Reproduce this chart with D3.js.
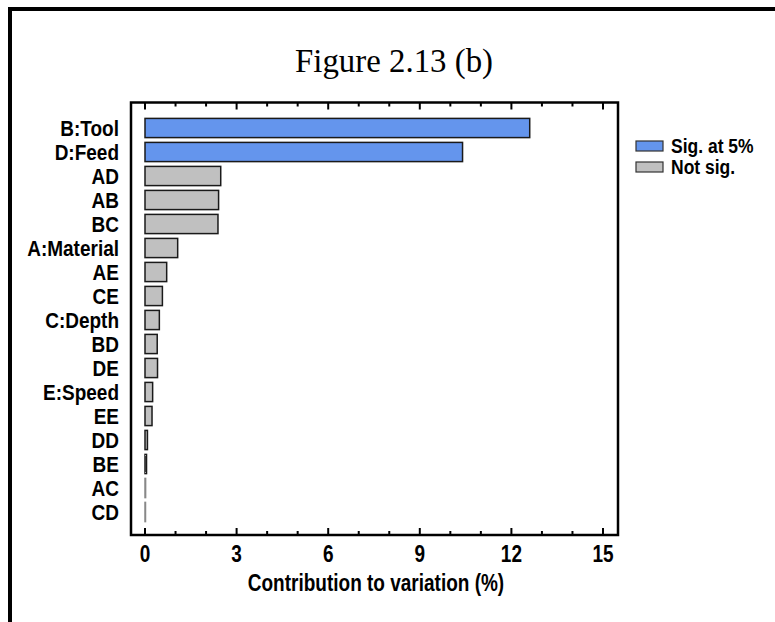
<!DOCTYPE html>
<html>
<head>
<meta charset="utf-8">
<script src="https://cdn.jsdelivr.net/npm/d3@7"></script>
<style>
  body { margin: 0; background: #fff; }
  svg { display: block; }
  .lbl { font-family: "Liberation Sans", Arial, sans-serif; font-weight: bold; fill: #000; }
</style>
</head>
<body>
<svg id="chart"></svg>
<script>
// effects, top to bottom
const effects = ["B:Tool", "D:Feed", "AD", "AB", "BC", "A:Material", "AE", "CE",
  "C:Depth", "BD", "DE", "E:Speed", "EE", "DD", "BE", "AC", "CD"];
const contribution = [12.6, 10.4, 2.48, 2.41, 2.39, 1.07, 0.71, 0.57,
  0.47, 0.40, 0.41, 0.25, 0.23, 0.08, 0.05, 0.02, 0.01];
const significant = [true, true, false, false, false, false, false, false,
  false, false, false, false, false, false, false, false, false];
const xTicks = [0, 3, 6, 9, 12, 15];
const legendItems = ["Sig. at 5%", "Not sig."];

const colors = { sig: "#6495ED", not: "#C0C0C0" };

const svg = d3.select("#chart")
  .attr("width", 775)
  .attr("height", 622);

// text in the picture is a bit stretched vertically
const tall = (sel, px, py, sy) =>
  sel.attr("transform", `translate(${px},${py}) scale(1,${sy})`);

// outer frame (only top and left visible in the picture)
svg.append("rect")
  .attr("x", 10).attr("y", 9)
  .attr("width", 800).attr("height", 700)
  .attr("fill", "none")
  .attr("stroke", "#000")
  .attr("stroke-width", 4);

tall(svg.append("text"), 394, 72, 1.12)
  .attr("text-anchor", "middle")
  .attr("font-family", "'Liberation Serif', 'Times New Roman', serif")
  .attr("font-size", 31)
  .attr("textLength", 198)
  .attr("lengthAdjust", "spacingAndGlyphs")
  .text("Figure 2.13 (b)");

const box = { left: 131, right: 618, top: 102.5, bottom: 535 };

const x = d3.scaleLinear()
  .domain([0, 15])
  .range([145, 603]);

const y = d3.scaleBand()
  .domain(effects)
  .range([116, 524])
  .paddingInner(0.2)
  .paddingOuter(0.1);

// bars
svg.append("g")
  .selectAll("rect")
  .data(effects.map((e, i) => ({ effect: e, value: contribution[i], sig: significant[i] })))
  .enter().append("rect")
  .attr("x", x(0))
  .attr("y", d => y(d.effect))
  .attr("width", d => Math.max(0.5, x(d.value) - x(0)))
  .attr("height", y.bandwidth())
  .attr("fill", d => d.sig ? colors.sig : colors.not)
  .attr("stroke", d => d.value < 0.04 ? "#888" : "#1a1a1a")
  .attr("stroke-width", 1.5);

// plot frame
svg.append("rect")
  .attr("x", box.left).attr("y", box.top)
  .attr("width", box.right - box.left)
  .attr("height", box.bottom - box.top)
  .attr("fill", "none")
  .attr("stroke", "#000")
  .attr("stroke-width", 2.5);

// inward ticks on top and bottom
const allTicks = d3.range(0, 16);
const tickG = svg.append("g").attr("stroke", "#000").attr("stroke-width", 2);
allTicks.forEach(t => {
  const len = t % 3 === 0 ? 7 : 4;
  tickG.append("line")
    .attr("x1", x(t)).attr("x2", x(t))
    .attr("y1", box.bottom).attr("y2", box.bottom - len);
  tickG.append("line")
    .attr("x1", x(t)).attr("x2", x(t))
    .attr("y1", box.top).attr("y2", box.top + len);
});

// tick labels
svg.append("g")
  .selectAll("text")
  .data(xTicks)
  .enter().append("text")
  .attr("class", "lbl")
  .each(function (d) { tall(d3.select(this), x(d), 562, 1.3); })
  .attr("text-anchor", "middle")
  .attr("font-size", 19)
  .text(d => d);

tall(svg.append("text"), 376, 591, 1.25)
  .attr("class", "lbl")
  .attr("text-anchor", "middle")
  .attr("font-size", 19)
  .text("Contribution to variation (%)");

// effect labels
svg.append("g")
  .selectAll("text")
  .data(effects)
  .enter().append("text")
  .attr("class", "lbl")
  .each(function (d) { tall(d3.select(this), 119, y(d) + y.bandwidth() / 2, 1.2); })
  .attr("dy", "0.36em")
  .attr("text-anchor", "end")
  .attr("font-size", 19)
  .text(d => d);

// legend
const legend = svg.append("g")
  .selectAll("g")
  .data(legendItems)
  .enter().append("g")
  .attr("transform", (d, i) => `translate(636,${141 + i * 21})`);

legend.append("rect")
  .attr("width", 27)
  .attr("height", 10)
  .attr("fill", (d, i) => i === 0 ? colors.sig : colors.not)
  .attr("stroke", "#333")
  .attr("stroke-width", 1.2);

legend.append("text")
  .attr("class", "lbl")
  .attr("transform", "translate(35,5) scale(1,1.15)")
  .attr("dy", "0.36em")
  .attr("font-size", 17.5)
  .text(d => d);
</script>
</body>
</html>
